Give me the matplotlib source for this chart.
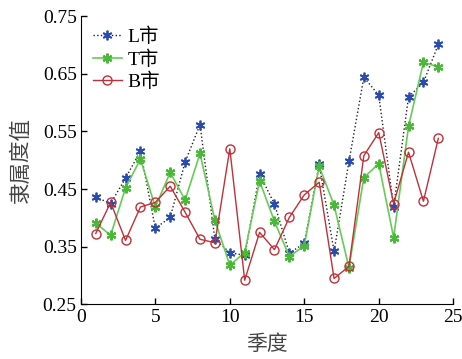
import numpy as np
import matplotlib
matplotlib.use("Agg")
import matplotlib.pyplot as plt

# ---------- data ----------
quarters = list(range(1, 25))
L_city = [0.436, 0.425, 0.469, 0.516, 0.382, 0.401, 0.497, 0.562, 0.363, 0.340,
          0.335, 0.476, 0.424, 0.339, 0.356, 0.493, 0.342, 0.498, 0.644, 0.613,
          0.419, 0.610, 0.635, 0.701]
T_city = [0.391, 0.370, 0.452, 0.502, 0.419, 0.479, 0.431, 0.512, 0.396, 0.318,
          0.340, 0.464, 0.394, 0.333, 0.352, 0.490, 0.422, 0.314, 0.470, 0.494,
          0.366, 0.559, 0.670, 0.662]
B_city = [0.373, 0.427, 0.361, 0.419, 0.427, 0.455, 0.410, 0.363, 0.357, 0.520,
          0.292, 0.375, 0.345, 0.401, 0.440, 0.462, 0.295, 0.316, 0.508, 0.548,
          0.425, 0.514, 0.429, 0.538]
yticks = [0.25, 0.35, 0.45, 0.55, 0.65, 0.75]
xticks = [0, 5, 10, 15, 20, 25]

serif = ["Liberation Serif", "Noto Sans CJK SC"]
cjk = ["Noto Sans CJK SC", "DejaVu Sans"]
asterisk = (6, 2, 0)

fig = plt.figure(figsize=(4.62, 3.59), dpi=100)
ax = fig.add_axes([0.175, 0.152, 0.806, 0.803])

ax.plot(quarters, L_city, linestyle=":", color="#202028", linewidth=1.0,
        marker=asterisk, markersize=7, markeredgewidth=1.3,
        markeredgecolor="#2a4bb0", label="L市")
ax.plot(quarters, T_city, linestyle="-", color="#66cc55", linewidth=1.2,
        marker=asterisk, markersize=7, markeredgewidth=1.6,
        markeredgecolor="#4cb83a", label="T市")
ax.plot(quarters, B_city, linestyle="-", color="#c03038", linewidth=1.0,
        marker="o", markersize=6.5, markerfacecolor="none",
        markeredgecolor="#c03038", label="B市")

ax.set_xlim(0, 25)
ax.set_ylim(0.25, 0.75)
ax.set_xticks(xticks)
ax.set_yticks(yticks)
ax.set_yticklabels([f"{v:.2f}" for v in yticks], family=serif, fontsize=14)
ax.set_xticklabels([str(v) for v in xticks], family=serif, fontsize=14)
ax.tick_params(direction="in", length=4, width=1, pad=3)
for s in ["top", "right"]:
    ax.spines[s].set_visible(False)

ax.set_xlabel("季度", family=cjk, fontsize=15, labelpad=5, color="#444444")
ax.set_ylabel("隶属度值", family=cjk, fontsize=15.5, labelpad=8, color="#444444")

leg = ax.legend(loc="upper left", frameon=False, prop={"family": serif, "size": 14},
                handlelength=1.5, handletextpad=0.3, labelspacing=0.2,
                borderaxespad=0.2)

fig.savefig("out.png", dpi=100)
